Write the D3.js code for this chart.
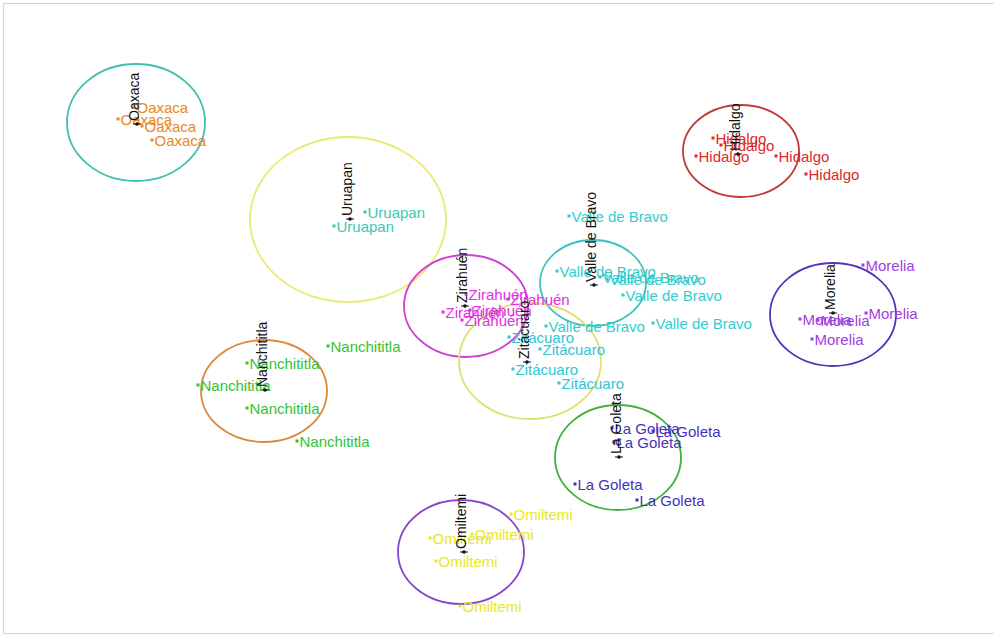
<!DOCTYPE html>
<html>
<head>
<meta charset="utf-8">
<script src="https://cdn.jsdelivr.net/npm/d3@7"></script>
<style>
  html, body { margin: 0; padding: 0; background: #fff; }
  svg { display: block; }
</style>
</head>
<body>
<svg id="chart" width="994" height="636"></svg>
<script>
// Population names (one group per locality)
const populations = ["Oaxaca", "Uruapan", "Zirahuén", "Valle de Bravo", "Zitácuaro",
                     "Hidalgo", "Morelia", "Nanchititla", "La Goleta", "Omiltemi"];

// Individual scores on the two discriminant axes, per population: [LD1, LD2]
const oaxacaScores       = [[-7.32, 4.26], [-7.64, 4.02], [-7.16, 3.88], [-6.96, 3.60]];
const uruapanScores      = [[-2.70, 2.16], [-3.32, 1.88]];
const zirahuenScores     = [[-0.68, 0.52], [-1.14, 0.16], [-0.60, 0.20], [-0.76, 0.00], [0.16, 0.42]];
const valleScores        = [[1.38, 2.08], [1.14, 0.98], [2.00, 0.86], [2.14, 0.82], [2.46, 0.50], [0.92, -0.12], [3.06, -0.06]];
const zitacuaroScores    = [[0.18, -0.34], [0.80, -0.58], [0.26, -0.98], [1.18, -1.26]];
const hidalgoScores      = [[4.26, 3.64], [4.42, 3.50], [3.92, 3.28], [5.52, 3.28], [6.12, 2.92]];
const moreliaScores      = [[7.26, 1.10], [6.00, 0.02], [6.36, 0.00], [7.32, 0.14], [6.24, -0.38]];
const nanchititlaScores  = [[-3.44, -0.52], [-5.06, -0.86], [-6.04, -1.30], [-5.06, -1.76], [-4.06, -2.42]];
const goletaScores       = [[2.24, -2.16], [3.06, -2.22], [2.28, -2.44], [1.50, -3.28], [2.74, -3.60]];
const omiltemiScores     = [[0.22, -3.88], [-0.56, -4.28], [-1.40, -4.36], [-1.28, -4.82], [-0.80, -5.72]];

// Population centroids [LD1, LD2]
const centroids = [[-7.26, 3.92], [-3.00, 2.02], [-0.70, 0.28], [1.88, 0.70], [0.54, -0.84],
                   [4.76, 3.32], [6.66, 0.14], [-4.70, -1.40], [2.38, -2.74], [-0.72, -4.64]];

// Inertia ellipses: centre [LD1, LD2] and half-axes [a, b]
const ellipseCentres = [[-7.28, 3.95], [-3.04, 2.01], [-0.68, 0.28], [1.86, 0.74], [0.60, -0.82],
                        [4.82, 3.38], [6.66, 0.11], [-4.72, -1.42], [2.36, -2.75], [-0.78, -4.64]];
const ellipseAxes    = [[1.38, 1.17], [1.96, 1.65], [1.24, 1.02], [1.06, 0.86], [1.42, 1.16],
                        [1.16, 0.92], [1.26, 1.03], [1.26, 1.02], [1.26, 1.05], [1.26, 1.04]];

// Colours for the individual points/labels and for each ellipse
const pointColours   = ["#e8891e", "#3cc8b0", "#e030e0", "#33cccc", "#33c4d4",
                        "#e02828", "#a040e0", "#33c433", "#4433bb", "#e8e820"];
const ellipseColours = ["#40c0b0", "#eaea70", "#d040d0", "#40c0c0", "#e0e070",
                        "#c03838", "#5533bb", "#e08838", "#40b040", "#8844cc"];

const scores = [oaxacaScores, uruapanScores, zirahuenScores, valleScores, zitacuaroScores,
                hidalgoScores, moreliaScores, nanchititlaScores, goletaScores, omiltemiScores];

const svg = d3.select("#chart");
const W = 994, H = 636;

// Scales: LD1 horizontally, LD2 vertically
const x = d3.scaleLinear().domain([-10, 10]).range([0, 1000]);
const y = d3.scaleLinear().domain([-6, 6]).range([620, 20]);

// Plot frame
svg.append("rect")
  .attr("x", 3.5).attr("y", 3.5)
  .attr("width", W + 10).attr("height", 630)
  .attr("fill", "#fff")
  .attr("stroke", "#d6d6d6").attr("stroke-width", 1.2);

const groups = populations.map((name, i) => ({
  name,
  pts: scores[i],
  centroid: centroids[i],
  ec: ellipseCentres[i],
  ea: ellipseAxes[i],
  pc: pointColours[i],
  lc: ellipseColours[i]
}));

// Ellipses
svg.append("g").selectAll("ellipse")
  .data(groups).join("ellipse")
  .attr("cx", d => x(d.ec[0]))
  .attr("cy", d => y(d.ec[1]))
  .attr("rx", d => x(d.ec[0] + d.ea[0]) - x(d.ec[0]))
  .attr("ry", d => y(d.ec[1]) - y(d.ec[1] + d.ea[1]))
  .attr("fill", "none")
  .attr("stroke", d => d.lc)
  .attr("stroke-width", 1.8);

const fontFamily = "'Liberation Sans', Arial, sans-serif";

// Individuals: dot + population label
const ind = svg.append("g").selectAll("g")
  .data(groups.flatMap(g => g.pts.map(p => ({ name: g.name, p, col: g.pc }))))
  .join("g")
  .attr("transform", d => `translate(${x(d.p[0])},${y(d.p[1])})`);

ind.append("rect")
  .attr("x", -1.5).attr("y", -1.5).attr("width", 3).attr("height", 3)
  .attr("fill", d => d.col);

ind.append("text")
  .attr("x", 2.5).attr("dy", "0.38em")
  .attr("font-family", fontFamily)
  .attr("font-size", 15)
  .attr("fill", d => d.col)
  .text(d => d.name);

// Centroids with vertical population names
const cen = svg.append("g").selectAll("g")
  .data(groups).join("g")
  .attr("transform", d => `translate(${x(d.centroid[0])},${y(d.centroid[1])})`);

cen.append("circle").attr("r", 1.8).attr("fill", "#111");
cen.append("path").attr("d", "M-4,0H4").attr("stroke", "#111").attr("stroke-width", 1);

cen.append("text")
  .attr("transform", "translate(2,-3) rotate(-90)")
  .attr("font-family", fontFamily)
  .attr("font-size", 14)
  .attr("fill", "#111")
  .text(d => d.name);
</script>
</body>
</html>
